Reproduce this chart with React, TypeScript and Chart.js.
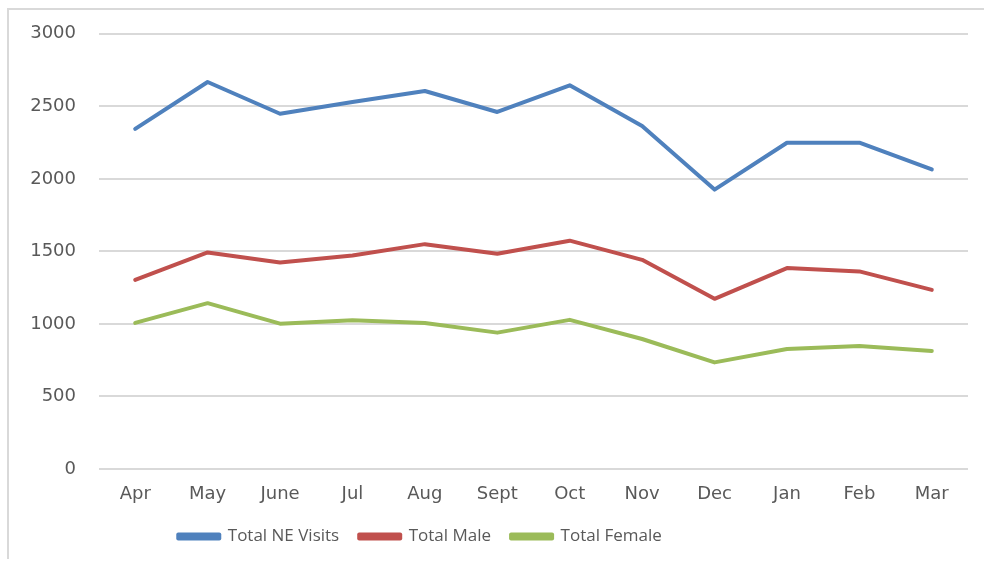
import React, { useEffect, useRef } from 'react';
import { Chart, registerables } from 'chart.js';

Chart.register(...registerables);

const months = ['Apr', 'May', 'June', 'Jul', 'Aug', 'Sept', 'Oct', 'Nov', 'Dec', 'Jan', 'Feb', 'Mar'];
const totalVisits = [2345, 2668, 2449, 2530, 2606, 2461, 2645, 2364, 1926, 2249, 2249, 2065];
const totalMale = [1304, 1493, 1424, 1472, 1550, 1484, 1574, 1442, 1173, 1385, 1362, 1235];
const totalFemale = [1007, 1143, 1002, 1025, 1007, 940, 1028, 896, 735, 827, 848, 814];
const yMin = 0;
const yMax = 3000;
const yStep = 500;

const TEXT = '#595959';
const GRID = '#d9d9d9';

const framePlugin = {
  id: 'frame',
  beforeDraw(chart: any) {
    const ctx = chart.ctx;
    ctx.save();
    ctx.fillStyle = '#ffffff';
    ctx.fillRect(0, 0, chart.width, chart.height);
    ctx.strokeStyle = '#d9d9d9';
    ctx.lineWidth = 2;
    ctx.strokeRect(8, 9, 1100, 1100);
    ctx.restore();
    const lg = chart.legend;
    if (lg) {
      lg.left = 0;
      lg.right = 840;
    }
  },
};

export default function App() {
  const ref = useRef<HTMLCanvasElement>(null);
  useEffect(() => {
    document.body.style.margin = '0';
    document.body.style.overflow = 'hidden';
    const canvas = ref.current!;
    const chart = new Chart(canvas, {
      type: 'line',
      data: {
        labels: months,
        datasets: [
          { label: 'Total NE Visits', data: totalVisits, borderColor: '#4f81bd', backgroundColor: '#4f81bd' },
          { label: 'Total Male', data: totalMale, borderColor: '#c0504d', backgroundColor: '#c0504d' },
          { label: 'Total Female', data: totalFemale, borderColor: '#9bbb59', backgroundColor: '#9bbb59' },
        ].map((d) => ({
          ...d,
          borderWidth: 4,
          pointRadius: 0,
          tension: 0,
          borderCapStyle: 'round' as const,
          borderJoinStyle: 'round' as const,
          fill: false,
        })),
      },
      options: {
        responsive: false,
        animation: false,
        layout: { padding: { left: 0, right: 16, top: 33, bottom: 4 } },
        plugins: {
          tooltip: { enabled: false },
          legend: {
            position: 'bottom',
            align: 'center',
            labels: {
              font: { family: 'Open Sans', size: 17 },
              color: TEXT,
              boxWidth: 41,
              boxHeight: 4,
              padding: 20,
            },
          },
        },
        scales: {
          x: {
            offset: true,
            grid: { display: false, drawTicks: false },
            border: { display: false },
            ticks: { font: { family: 'DejaVu Sans', size: 18 }, color: TEXT, padding: 15, maxRotation: 0 },
            afterFit: (s: any) => { s.height = 39; },
          },
          y: {
            min: yMin,
            max: yMax,
            grid: { color: GRID, lineWidth: 2, drawTicks: false },
            border: { display: false },
            ticks: {
              stepSize: yStep,
              font: { family: 'DejaVu Sans', size: 18 },
              color: TEXT,
              padding: 23,
              callback: (v: any) => String(v),
            },
            afterFit: (s: any) => { s.width = 99; },
          },
        },
      },
      plugins: [framePlugin],
    });
    return () => chart.destroy();
  }, []);
  return (
    <div style={{ position: 'fixed', left: 0, top: 0, width: 984, height: 559 }}>
      <canvas ref={ref} width={984} height={559} style={{ width: 984, height: 559, display: 'block' }} />
    </div>
  );
}
